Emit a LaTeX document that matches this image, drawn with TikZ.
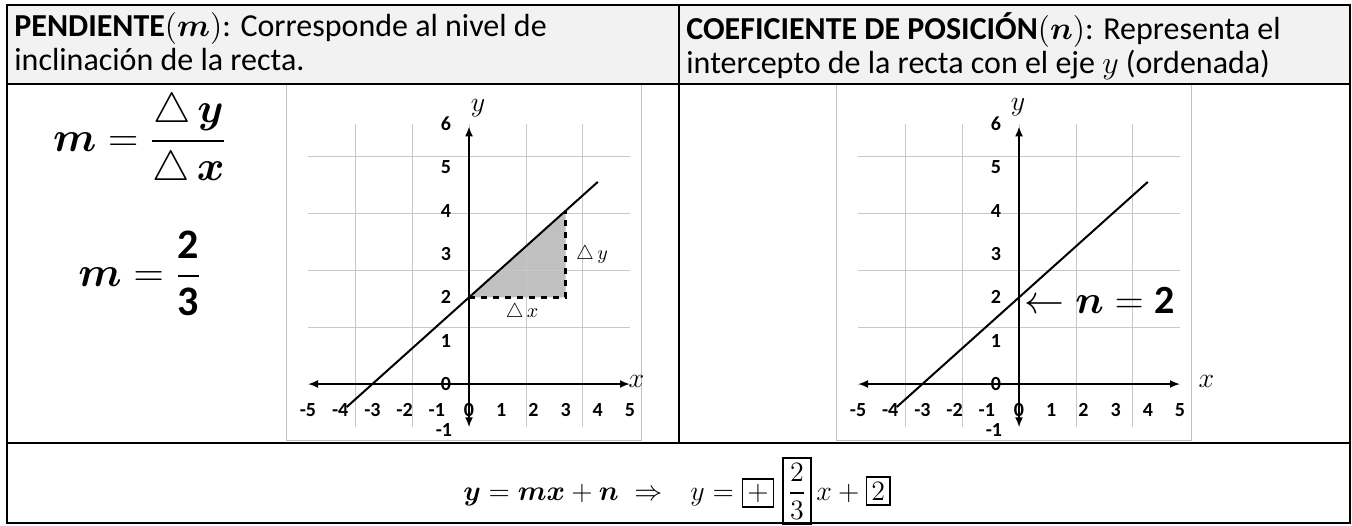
\RequirePackage{fix-cm}
\documentclass[tikz,border=0pt]{standalone}
\usepackage{amsmath,amssymb,bm}
\usepackage{fontspec}
\setmainfont{Carlito}
\usepackage{xcolor}
\usepackage{tikz}
\usetikzlibrary{arrows.meta,positioning}
\definecolor{hdrbg}{HTML}{F2F2F2}
\definecolor{gridgray}{HTML}{C8C8C8}
\definecolor{framegray}{HTML}{BFBFBF}
\definecolor{trifill}{HTML}{C0C0C0}

\begin{document}
\begin{tikzpicture}[x=0.5pt,y=0.5pt,
  rule/.style={line width=1.3pt,draw=black},
  hdr/.style={anchor=north west,align=left,inner sep=0pt,
              font=\fontsize{16}{17}\selectfont},
  big/.style={inner sep=0pt,font=\fontsize{21}{25}\selectfont},
  imgframe/.style={draw=framegray,line width=0.5pt},
  gridl/.style={draw=gridgray,line width=0.4pt},
  axisline/.style={{Latex[length=5pt,width=4pt]}-{Latex[length=5pt,width=4pt]},
                   line width=1pt},
  recta/.style={line width=1pt},
  ticknum/.style={inner sep=0pt,font=\fontsize{10}{12}\selectfont\bfseries},
  lbl/.style={inner sep=0pt,font=\fontsize{14}{16}\selectfont},
  small/.style={inner sep=0pt,font=\fontsize{10}{12}\selectfont}]
  \useasboundingbox (0,0) rectangle (1352,525);
  \fill[hdrbg] (7,441) rectangle (1350,520);
  \node[hdr] (penh) at (14,513)
       {\textbf{PENDIENTE}$(\bm{m})$: Corresponde al nivel de\\inclinación de la recta.};
  \node[hdr] (coefh) at (686,513)
       {\textbf{COEFICIENTE DE POSICIÓN}$(\bm{n})$: Representa el\\intercepto de la recta con el eje $y$ (ordenada)};
  \node[big] (mdef) at (140,384)
       {$\displaystyle\bm{m}=\frac{\triangle\,\bm{y}}{\triangle\,\bm{x}}$};
  \node[big] (mval) at (140,252)
       {$\displaystyle\bm{m}=\frac{\mathbf{2}}{\mathbf{3}}$};
  \begin{scope}[shift={(469,141)},x=16.1pt,y=21.65pt]
    \fill[trifill] (0,2) -- (3,4) -- (3,2) -- cycle;
  \end{scope}
  \foreach \ox/\g in {469/L,1019/R}{
    \draw[imgframe] ({\ox-183},85) rectangle ({\ox+172},440);
    \begin{scope}[shift={(\ox,141)},x=16.1pt,y=21.65pt]
      \draw[gridl] (-5,-1) grid (5,6);
      \draw[axisline] (-5,0) -- (5,0);
      \draw[axisline] (0,-1) -- (0,5.95);
      \foreach \i in {-5,...,5}
        \node[ticknum] (\g x\i) at (\i,-0.6) {\i};
      \foreach \j in {0,...,6}
        \node[ticknum] (\g y\j) at (-0.72,\j) {\j};
      \node[ticknum] (\g ym1) at (-0.78,-1.06) {-1};
      \draw[recta] (-3.8,-0.533) -- (4,4.667);
    \end{scope}}
  \begin{scope}[shift={(469,141)},x=16.1pt,y=21.65pt]
    \draw[dashed,line width=1.2pt] (0,2) -- (3,2) -- (3,4);
    \node[small] (dy) at (3.82,2.98) {$\triangle\,y$};
    \node[small] (dx) at (1.65,1.64) {$\triangle\,x$};
    \node[lbl] (Lxl) at (5.2,0.05) {$x$};
    \node[lbl] (Lyl) at (0.28,6.37) {$y$};
  \end{scope}
  \begin{scope}[shift={(1019,141)},x=16.1pt,y=21.65pt]
    \node[big,anchor=west,font=\fontsize{20}{24}\selectfont] (n2) at (0.15,1.94)
         {$\leftarrow\bm{n}=\mathbf{2}$};
    \node[lbl] (Rxl) at (5.82,0.05) {$x$};
    \node[lbl] (Ryl) at (-0.03,6.4) {$y$};
  \end{scope}
  \setlength{\fboxsep}{2pt}
  \setlength{\fboxrule}{0.8pt}
  \node[lbl,anchor=base] (eq) at (677,25)
       {$\bm{y}=\bm{m}\bm{x}+\bm{n}\;\Rightarrow\;\;\, y=\fbox{$+$}\;\fbox{$\dfrac{2}{3}$}\,x+\fbox{$2$}$};
  \draw[rule] (7,2) rectangle (1350,520);
  \draw[rule] (7,441) -- (1350,441);
  \draw[rule] (7,82) -- (1350,82);
  \draw[rule] (679,82) -- (679,520);
\end{tikzpicture}
\end{document}
